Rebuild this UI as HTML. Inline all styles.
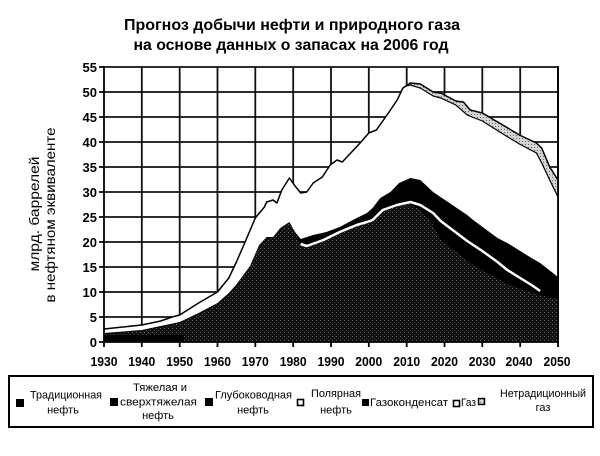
<!DOCTYPE html>
<html><head><meta charset="utf-8"><style>
html,body{margin:0;padding:0;background:#fff;}
svg{display:block;}
text{font-family:"Liberation Sans","DejaVu Sans",sans-serif;fill:#000;}
</style></head><body>
<svg width="600" height="456" viewBox="0 0 600 456" xmlns="http://www.w3.org/2000/svg">
<defs>
<pattern id="st" width="4" height="4" patternUnits="userSpaceOnUse"><rect width="4" height="4" fill="#111"/><rect x="0" y="0" width="1" height="1" fill="#6a6a6a"/><rect x="2" y="2" width="1" height="1" fill="#444"/></pattern>
<pattern id="lg" width="3" height="3" patternUnits="userSpaceOnUse"><rect width="3" height="3" fill="#d4d4d4"/><rect width="1" height="1" fill="#666"/></pattern>
</defs>
<rect width="600" height="456" fill="#fff"/>
<!-- title -->
<text x="292" y="30" font-size="16" font-weight="bold" text-anchor="middle" textLength="336" lengthAdjust="spacingAndGlyphs">Прогноз добычи нефти и природного газа</text>
<text x="291" y="50" font-size="16" font-weight="bold" text-anchor="middle" textLength="315" lengthAdjust="spacingAndGlyphs">на основе данных о запасах на 2006 год</text>
<!-- y title -->
<text transform="translate(39,214) rotate(-90)" font-size="14" text-anchor="middle" textLength="115" lengthAdjust="spacingAndGlyphs">млрд. баррелей</text>
<text transform="translate(55,215) rotate(-90)" font-size="14" text-anchor="middle" textLength="175" lengthAdjust="spacingAndGlyphs">в нефтяном эквиваленте</text>
<!-- grid -->
<g stroke="#111" stroke-width="1.8" fill="none">
<path d="M104 67H558M104 92H558M104 117H558M104 142H558M104 167H558M104 192H558M104 217H558M104 242H558M104 267H558M104 292H558M104 317H558"/>
<path d="M141.8 67V342M179.7 67V342M217.5 67V342M255.3 67V342M293.2 67V342M331 67V342M368.8 67V342M406.7 67V342M444.5 67V342M482.3 67V342M520.2 67V342M558 67V342"/>
</g>
<!-- unconventional gas band (full envelope) -->
<polygon fill="url(#lg)" points="104,329 122.9,327 141.8,325 160.7,321 172.1,317 179.7,315 198.6,303 217.5,292 228.8,278 236.4,262 244,244.5 255.3,218 264.4,207 266.7,202 273.1,200 276.9,203 281.8,190 289.4,178 294.3,185 300.7,193 306.8,192 313.2,183 322.3,177 330.2,165 337,160 342.3,162 360.1,143 368.8,133 376.4,130 387,115 397.2,100 402.9,88 410.4,83 420.3,84 433.1,92 440.7,93 455.8,101 463.4,102 470.2,110 482.3,113 506.2,127 519.4,135 536.4,143 541.7,148 549.7,167 558,180 558,342 104,342"/>
<!-- gas white area -->
<polygon fill="#fff" points="104,329 122.9,327 141.8,325 160.7,321 172.1,317 179.7,315 198.6,303 217.5,292 228.8,278 236.4,262 244,244.5 255.3,218 264.4,207 266.7,202 273.1,200 276.9,203 281.8,190 289.4,178 294.3,185 300.7,193 306.8,192 313.2,183 322.3,177 330.2,165 337,160 342.3,162 360.1,143 368.8,133 376.4,130 387,115 397.2,100 402.9,88 406,86 410.4,85 420.3,88 433.1,96 440.7,98 455.8,105 467.2,115 482.3,121 506.2,136 519.4,144 536.4,153 541.7,163 549.7,180 558,197 558,342 104,342"/>
<!-- outlines -->
<polyline fill="none" stroke="#000" stroke-width="1.5" stroke-linejoin="round" points="104,329 122.9,327 141.8,325 160.7,321 172.1,317 179.7,315 198.6,303 217.5,292 228.8,278 236.4,262 244,244.5 255.3,218 264.4,207 266.7,202 273.1,200 276.9,203 281.8,190 289.4,178 294.3,185 300.7,193 306.8,192 313.2,183 322.3,177 330.2,165 337,160 342.3,162 360.1,143 368.8,133 376.4,130 387,115 397.2,100 402.9,88 410.4,83 420.3,84 433.1,92 440.7,93 455.8,101 463.4,102 470.2,110 482.3,113 506.2,127 519.4,135 536.4,143 541.7,148 549.7,167 558,180"/>
<polyline fill="none" stroke="#000" stroke-width="1.2" points="402.9,88 406,86 410.4,85 420.3,88 433.1,96 440.7,98 455.8,105 467.2,115 482.3,121 506.2,136 519.4,144 536.4,153 541.7,163 549.7,180 558,197"/>
<!-- black (gas condensate) area -->
<polygon fill="#000" points="104,333 141.8,330 179.7,322 198.6,313 217.5,303 228.8,293 236.4,284.5 250,266 259.1,245 266.7,237 273.1,237 280.3,228 289.4,222 295,232 300.7,239 313.2,235 326.4,232 339.7,227 356.7,218 366.9,213 372.6,208 380.2,198 390.4,192 399.1,183 410.4,178 420.3,180 433.1,192 467.2,215 473.2,220 497.5,238 507.3,243 531.5,258 540.2,263 558,277 558,342 104,342"/>
<!-- stipple oil area -->
<polygon fill="url(#st)" points="104,334 141.8,331 179.7,323 198.6,314 217.5,304 228.8,294 236.4,285.5 250,267 259.1,246 266.7,238 273.1,238 280.3,229 289.4,223 295,233 300.7,245 306.8,247 323.4,241 339.7,233 356.7,226 366.9,223 372.6,221 382.8,211 396.8,206 410.4,204 420.3,210 433.1,225 440.7,240 473.2,265 507.3,284 539,295 558,299 558,342 104,342"/>
<rect x="104" y="335" width="80" height="7" fill="#000"/>
<!-- polar oil white line -->
<polyline fill="none" stroke="#fff" stroke-width="2.5" stroke-linejoin="round" points="300.7,244 306.8,246 323.4,240 339.7,232 356.7,225 366.9,222 372.6,220 382.8,210 396.8,205 410.4,202 420.3,205 433.1,213 440.7,221 467.2,241 482.3,251 497.5,262 507.3,270 531.5,285 540.2,291"/>
<!-- axes -->
<g stroke="#000" stroke-width="1.8" fill="none">
<path d="M104 66V343M103 342H559M558 66V342"/>
<path d="M99 67H104M99 92H104M99 117H104M99 142H104M99 167H104M99 192H104M99 217H104M99 242H104M99 267H104M99 292H104M99 317H104M99 342H104"/>
<path d="M104 342V347M141.8 342V347M179.7 342V347M217.5 342V347M255.3 342V347M293.2 342V347M331 342V347M368.8 342V347M406.7 342V347M444.5 342V347M482.3 342V347M520.2 342V347M558 342V347"/>
</g>
<!-- y labels -->
<g font-size="13" font-weight="bold" text-anchor="end">
<text x="97" y="72">55</text><text x="97" y="97">50</text><text x="97" y="122">45</text><text x="97" y="147">40</text><text x="97" y="172">35</text><text x="97" y="197">30</text><text x="97" y="222">25</text><text x="97" y="247">20</text><text x="97" y="272">15</text><text x="97" y="297">10</text><text x="97" y="322">5</text><text x="97" y="347">0</text>
</g>
<!-- x labels -->
<g font-size="13" font-weight="bold" text-anchor="middle">
<text x="104" y="366" textLength="27" lengthAdjust="spacingAndGlyphs">1930</text>
<text x="141.8" y="366" textLength="27" lengthAdjust="spacingAndGlyphs">1940</text>
<text x="179.7" y="366" textLength="27" lengthAdjust="spacingAndGlyphs">1950</text>
<text x="217.5" y="366" textLength="27" lengthAdjust="spacingAndGlyphs">1960</text>
<text x="255.3" y="366" textLength="27" lengthAdjust="spacingAndGlyphs">1970</text>
<text x="293.2" y="366" textLength="27" lengthAdjust="spacingAndGlyphs">1980</text>
<text x="331" y="366" textLength="27" lengthAdjust="spacingAndGlyphs">1990</text>
<text x="368.8" y="366" textLength="27" lengthAdjust="spacingAndGlyphs">2000</text>
<text x="406.7" y="366" textLength="27" lengthAdjust="spacingAndGlyphs">2010</text>
<text x="444.5" y="366" textLength="27" lengthAdjust="spacingAndGlyphs">2020</text>
<text x="482.3" y="366" textLength="27" lengthAdjust="spacingAndGlyphs">2030</text>
<text x="519" y="366" textLength="27" lengthAdjust="spacingAndGlyphs">2040</text>
<text x="557" y="366" textLength="27" lengthAdjust="spacingAndGlyphs">2050</text>
</g>
<!-- legend -->
<rect x="9" y="376" width="584" height="51" fill="#fff" stroke="#000" stroke-width="2"/>
<g font-size="11">
<rect x="16" y="399" width="8" height="8" fill="#000"/>
<text x="30" y="398.5" textLength="72" lengthAdjust="spacingAndGlyphs">Традиционная</text>
<text x="63" y="413.5" text-anchor="middle">нефть</text>
<rect x="110" y="398" width="8" height="8" fill="#000"/>
<text x="160" y="391" text-anchor="middle" textLength="54" lengthAdjust="spacingAndGlyphs">Тяжелая и</text>
<text x="120" y="405.5" textLength="77" lengthAdjust="spacingAndGlyphs">сверхтяжелая</text>
<text x="158" y="419" text-anchor="middle">нефть</text>
<rect x="205" y="398" width="8" height="8" fill="#000"/>
<text x="215" y="398.5" textLength="77" lengthAdjust="spacingAndGlyphs">Глубоководная</text>
<text x="253" y="413.5" text-anchor="middle">нефть</text>
<rect x="297.5" y="399.5" width="6" height="6" fill="#fff" stroke="#000" stroke-width="1.6"/>
<text x="311" y="397" textLength="50" lengthAdjust="spacingAndGlyphs">Полярная</text>
<text x="336" y="413.5" text-anchor="middle">нефть</text>
<rect x="362" y="399" width="7" height="7" fill="#000"/>
<text x="370" y="406" textLength="78" lengthAdjust="spacingAndGlyphs">Газоконденсат</text>
<rect x="453.5" y="400.5" width="6" height="6" fill="#fff" stroke="#000" stroke-width="1.6"/>
<text x="461" y="406" textLength="15" lengthAdjust="spacingAndGlyphs">Газ</text>
<rect x="478.5" y="398.5" width="6" height="6" fill="url(#lg)" stroke="#000" stroke-width="1.4"/>
<text x="500" y="397" textLength="86" lengthAdjust="spacingAndGlyphs">Нетрадиционный</text>
<text x="543" y="411" text-anchor="middle">газ</text>
</g>
</svg>
</body></html>
